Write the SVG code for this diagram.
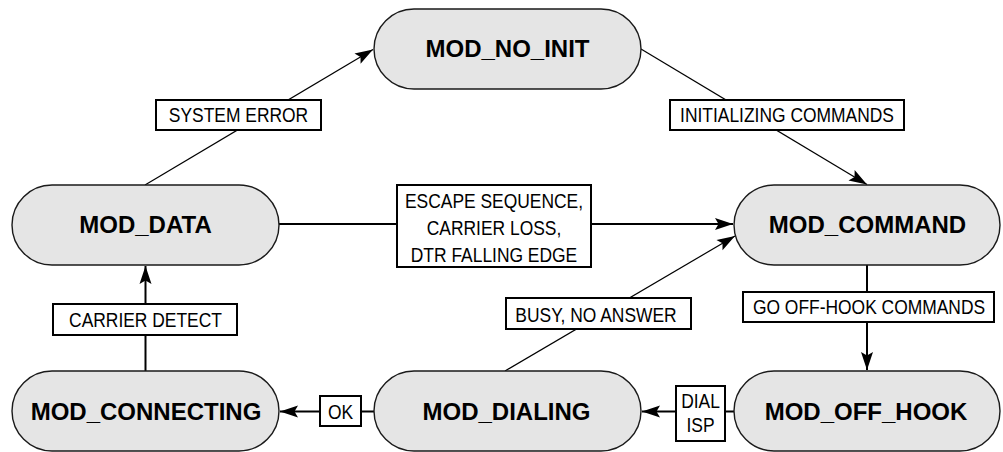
<svg xmlns="http://www.w3.org/2000/svg" width="1003" height="452" viewBox="0 0 1003 452">
<style>
.node rect{fill:#e5e5e5;stroke:#1a1a1a;stroke-width:1.4}
.node text{font-family:"Liberation Sans",Arial,sans-serif;font-weight:bold;font-size:24px;fill:#000;text-anchor:middle}
.thin{stroke:#000;stroke-width:1.2;fill:none}
.thick{stroke:#000;stroke-width:2;fill:none}
.lbl rect{fill:#fff;stroke:#000;stroke-width:2}
.lbl text{font-family:"Liberation Sans",Arial,sans-serif;font-size:21px;fill:#000;text-anchor:middle}
</style>
<defs>
<marker id="ah" markerUnits="userSpaceOnUse" markerWidth="20" markerHeight="14" viewBox="-19 -7 20 14" refX="0" refY="0" orient="auto">
<path d="M0,0 L-18,-6 L-14.5,0 L-18,6 Z" fill="#000"/>
</marker>
</defs>
<rect width="1003" height="452" fill="#fff"/>
<g id="connectors">
<line class="thin" x1="145" y1="185" x2="373" y2="49.5" marker-end="url(#ah)"/>
<line class="thin" x1="641" y1="49" x2="867" y2="184.5" marker-end="url(#ah)"/>
<line class="thick" x1="279" y1="224" x2="733" y2="224" marker-end="url(#ah)"/>
<line class="thin" x1="505" y1="371" x2="735" y2="236" marker-end="url(#ah)"/>
<line class="thick" x1="867" y1="265" x2="867" y2="370" marker-end="url(#ah)"/>
<line class="thick" x1="734" y1="411.5" x2="642" y2="411.5" marker-end="url(#ah)"/>
<line class="thick" x1="374" y1="411.5" x2="280" y2="411.5" marker-end="url(#ah)"/>
<line class="thick" x1="145.5" y1="371" x2="145.5" y2="266" marker-end="url(#ah)"/>
</g>
<g id="labels">
<g id="lbl-system-error" class="lbl"><rect x="156" y="100" width="165" height="30"/><text transform="translate(238.5,122) scale(0.83,1)">SYSTEM ERROR</text></g>
<g id="lbl-init-cmds" class="lbl"><rect x="670" y="100" width="234" height="30"/><text transform="translate(787,122.3) scale(0.83,1)">INITIALIZING COMMANDS</text></g>
<g id="lbl-escape" class="lbl"><rect x="397" y="185" width="194" height="82"/>
<text transform="translate(494,208.3) scale(0.83,1)">ESCAPE SEQUENCE,</text>
<text transform="translate(494,235) scale(0.83,1)">CARRIER LOSS,</text>
<text transform="translate(494,261.7) scale(0.83,1)">DTR FALLING EDGE</text></g>
<g id="lbl-busy" class="lbl"><rect x="506" y="298" width="185" height="31"/><text transform="translate(596,322) scale(0.83,1)">BUSY, NO ANSWER</text></g>
<g id="lbl-offhook" class="lbl"><rect x="743" y="292" width="251" height="30"/><text transform="translate(869,314) scale(0.83,1)">GO OFF-HOOK COMMANDS</text></g>
<g id="lbl-carrier" class="lbl"><rect x="53" y="304" width="184" height="31"/><text transform="translate(145.5,326.7) scale(0.83,1)">CARRIER DETECT</text></g>
<g id="lbl-ok" class="lbl"><rect x="320" y="396" width="41" height="30"/><text transform="translate(340.5,419) scale(0.83,1)">OK</text></g>
<g id="lbl-dial" class="lbl"><rect x="676" y="386" width="49" height="55"/>
<text transform="translate(700.5,408) scale(0.83,1)">DIAL</text>
<text transform="translate(700.5,432) scale(0.83,1)">ISP</text></g>
</g>
<g id="mod-no-init" class="node"><rect x="374" y="9" width="267" height="80" rx="40"/><text x="507.5" y="57.3">MOD_NO_INIT</text></g>
<g id="mod-data" class="node"><rect x="12" y="185" width="267" height="80" rx="40"/><text x="145.5" y="233">MOD_DATA</text></g>
<g id="mod-command" class="node"><rect x="734" y="185" width="266" height="80" rx="40"/><text x="867.5" y="233">MOD_COMMAND</text></g>
<g id="mod-connecting" class="node"><rect x="12" y="371" width="267" height="80" rx="40"/><text x="146" y="419.5">MOD_CONNECTING</text></g>
<g id="mod-dialing" class="node"><rect x="374" y="371" width="267" height="80" rx="40"/><text x="506.5" y="419.5">MOD_DIALING</text></g>
<g id="mod-off-hook" class="node"><rect x="734" y="371" width="266" height="80" rx="40"/><text x="866" y="419.5">MOD_OFF_HOOK</text></g>
</svg>
